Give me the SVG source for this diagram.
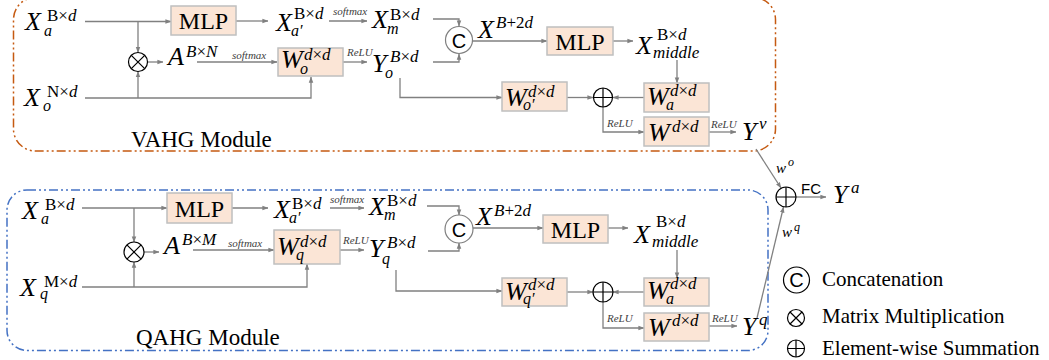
<svg xmlns="http://www.w3.org/2000/svg" width="1049" height="360" viewBox="0 0 1049 360">
<style>
.m{font-family:"Liberation Serif",serif;font-style:italic;font-size:26px;fill:#000}
.sp{font-size:17px}
.sb{font-size:16px}
.up{font-style:normal}
.lb{font-family:"Liberation Serif",serif;font-style:italic;font-size:11px;fill:#404040}
.bx{fill:#fbe5d6;stroke:#bfbfbf;stroke-width:1.5}
.bt{font-family:"Liberation Serif",serif;font-size:24px;text-anchor:middle;fill:#000}
.op{fill:#fff;stroke:#000;stroke-width:1.2}
.ol{stroke:#000;stroke-width:1.2;fill:none}
.cn{stroke:#808080;stroke-width:1.3;fill:none;marker-end:url(#ah)}
.mod{font-family:"Liberation Serif",serif;font-size:23px;fill:#000}
.leg{font-family:"Liberation Serif",serif;font-size:21px;fill:#000}
.cc{font-family:"Liberation Sans",sans-serif;font-size:20px;text-anchor:middle;fill:#000}
.fc{font-family:"Liberation Sans",sans-serif;font-size:15px;fill:#000}
.cop{fill:#fff;stroke:#7f7f7f;stroke-width:1.2}
</style>
<defs>
<marker id="ah" viewBox="0 0 8 8" refX="7.5" refY="4" markerWidth="6" markerHeight="6" markerUnits="userSpaceOnUse" orient="auto"><path d="M0,1 L8,4 L0,7 z" fill="#808080"/></marker>
</defs>
<rect width="1049" height="360" fill="#fff"/>

<g id="vahg-frame">
<rect x="13.5" y="-2.5" width="762" height="153.5" rx="22" fill="none" stroke="#c55a11" stroke-width="1.5" stroke-dasharray="9 3 2 3 2 3"/>
<text class="mod" x="131" y="147">VAHG Module</text>
</g>
<g id="qahg-frame">
<rect x="7" y="190" width="761" height="160.5" rx="20" fill="none" stroke="#4472c4" stroke-width="1.5" stroke-dasharray="9 3 2 3 2 3"/>
<text class="mod" x="136" y="345">QAHG Module</text>
</g>

<g id="connectors">
<path class="cn" d="M85,21.5 H171"/>
<path class="cn" d="M138,21.5 V52.5"/>
<path class="cn" d="M85,98 H311 V77"/>
<path class="cn" d="M138,98 V71.5"/>
<path class="cn" d="M147.5,62 H163"/>
<path class="cn" d="M197,62 H277"/>
<path class="cn" d="M236,21 H268"/>
<path class="cn" d="M329,21 H367"/>
<path class="cn" d="M343,62 H367"/>
<path class="cn" d="M433,19 H459 V26"/>
<path class="cn" d="M433,62 H459 V54"/>
<path class="cn" d="M473,41 H547"/>
<path class="cn" d="M613,41 H633"/>
<path class="cn" d="M677,60 V83"/>
<path class="cn" d="M644,97.5 H613"/>
<path class="cn" d="M567,97.5 H593"/>
<path class="cn" d="M400,78 V97.5 H502"/>
<path class="cn" d="M603,107 V132 H644"/>
<path class="cn" d="M709,132 H736"/>
<path class="cn" d="M756,149 L781,188"/>
<path class="cn" d="M82,208 H167"/>
<path class="cn" d="M134,208 V242"/>
<path class="cn" d="M82,287 H307 V264"/>
<path class="cn" d="M134,287 V262"/>
<path class="cn" d="M144,252 H159"/>
<path class="cn" d="M193,250 H274"/>
<path class="cn" d="M232,208 H268"/>
<path class="cn" d="M330,208 H364"/>
<path class="cn" d="M340,250 H364"/>
<path class="cn" d="M427,206 H459 V215"/>
<path class="cn" d="M428,251 H459 V243"/>
<path class="cn" d="M473,228 H543"/>
<path class="cn" d="M608,228 H628"/>
<path class="cn" d="M677,250 V278"/>
<path class="cn" d="M644,292 H613"/>
<path class="cn" d="M567,292 H593"/>
<path class="cn" d="M396,270 V291 H502"/>
<path class="cn" d="M603,302 V328 H644"/>
<path class="cn" d="M709,326 H737"/>
<path class="cn" d="M757,318 L783.5,207"/>
<path class="cn" d="M796,197 H826"/>
</g>

<g id="connector-labels">
<text class="lb" x="232" y="59">softmax</text>
<text class="lb" x="333" y="15">softmax</text>
<text class="lb" x="347" y="56">ReLU</text>
<text class="lb" x="607" y="127">ReLU</text>
<text class="lb" x="711" y="128">ReLU</text>
<text class="lb" x="228" y="247">softmax</text>
<text class="lb" x="330" y="203">softmax</text>
<text class="lb" x="343" y="244">ReLU</text>
<text class="lb" x="607" y="322">ReLU</text>
<text class="lb" x="712" y="322">ReLU</text>
<text class="m"><tspan x="776" y="173" style="font-size:15px">w</tspan><tspan x="788" y="166" style="font-size:12px">o</tspan></text>
<text class="m"><tspan x="782" y="237" style="font-size:15px">w</tspan><tspan x="794" y="231" style="font-size:12px">q</tspan></text>
<text class="fc" x="801" y="194">FC</text>
</g>

<g id="v-xa"><text class="m"><tspan x="25" y="30">X</tspan><tspan class="sp" x="47" y="21"><tspan class="up">B×</tspan>d</tspan><tspan class="sb" x="44" y="36">a</tspan></text></g>
<g id="v-xo"><text class="m"><tspan x="24" y="106">X</tspan><tspan class="sp" x="47" y="97"><tspan class="up">N×</tspan>d</tspan><tspan class="sb" x="43" y="111">o</tspan></text></g>
<g id="v-mm"><circle class="op" cx="138" cy="62" r="9.5"/><path class="ol" d="M131.3,55.3 L144.7,68.7 M144.7,55.3 L131.3,68.7"/></g>
<g id="v-a"><text class="m"><tspan x="168" y="65">A</tspan><tspan class="sp" x="186" y="57">B<tspan class="up">×</tspan>N</tspan></text></g>
<g id="v-mlp1"><rect class="bx" x="171" y="6" width="65" height="29"/><text class="bt" x="203.5" y="29">MLP</text></g>
<g id="v-wo"><rect class="bx" x="278" y="48" width="65" height="28"/><text class="m"><tspan x="281" y="68">W</tspan><tspan class="sp" x="304" y="60">d<tspan class="up">×</tspan>d</tspan><tspan class="sb" x="300" y="74">o</tspan></text></g>
<g id="v-xa2"><text class="m"><tspan x="276" y="31">X</tspan><tspan class="sp" x="294" y="19"><tspan class="up">B×</tspan>d</tspan><tspan class="sb" x="291" y="36">a′</tspan></text></g>
<g id="v-xm"><text class="m"><tspan x="372" y="28">X</tspan><tspan class="sp" x="390" y="20"><tspan class="up">B×</tspan>d</tspan><tspan class="sb" x="387" y="34">m</tspan></text></g>
<g id="v-yo"><text class="m"><tspan x="372" y="72">Y</tspan><tspan class="sp" x="390" y="62">B<tspan class="up">×</tspan>d</tspan><tspan class="sb" x="385" y="78">o</tspan></text></g>
<g id="v-cat"><circle class="cop" cx="459" cy="40" r="13.5"/><text class="cc" x="459" y="47.5">C</text></g>
<g id="v-x2d"><text class="m"><tspan x="478" y="38">X</tspan><tspan class="sp" x="496" y="28">B<tspan class="up">+2</tspan>d</tspan></text></g>
<g id="v-mlp2"><rect class="bx" x="547" y="27" width="66" height="28"/><text class="bt" x="580" y="50">MLP</text></g>
<g id="v-xmid"><text class="m"><tspan x="636" y="54">X</tspan><tspan class="sp" x="657" y="40"><tspan class="up">B×</tspan>d</tspan><tspan class="sb" x="653" y="58" style="font-size:17px">middle</tspan></text></g>
<g id="v-wa"><rect class="bx" x="644" y="83" width="65" height="29"/><text class="m"><tspan x="647" y="105">W</tspan><tspan class="sp" x="670" y="96">d<tspan class="up">×</tspan>d</tspan><tspan class="sb" x="666" y="110">a</tspan></text></g>
<g id="v-sum"><circle class="op" cx="603" cy="97.5" r="9.5"/><path class="ol" d="M593.5,97.5 H612.5 M603,88 V107"/></g>
<g id="v-wo2"><rect class="bx" x="502" y="82" width="65" height="29"/><text class="m"><tspan x="505" y="106">W</tspan><tspan class="sp" x="528" y="97">d<tspan class="up">×</tspan>d</tspan><tspan class="sb" x="523" y="110">o′</tspan></text></g>
<g id="v-w"><rect class="bx" x="644" y="117" width="65" height="29"/><text class="m"><tspan x="648" y="141">W</tspan><tspan class="sp" x="672" y="132">d<tspan class="up">×</tspan>d</tspan></text></g>
<g id="v-yv"><text class="m"><tspan x="742" y="140">Y</tspan><tspan class="sp" x="759" y="129">v</tspan></text></g>

<g id="q-xa"><text class="m"><tspan x="22" y="219">X</tspan><tspan class="sp" x="45" y="210"><tspan class="up">B×</tspan>d</tspan><tspan class="sb" x="41" y="224">a</tspan></text></g>
<g id="q-xq"><text class="m"><tspan x="20" y="296">X</tspan><tspan class="sp" x="44" y="287"><tspan class="up">M×</tspan>d</tspan><tspan class="sb" x="40" y="299">q</tspan></text></g>
<g id="q-mm"><circle class="op" cx="134" cy="252" r="10"/><path class="ol" d="M126.9,244.9 L141.1,259.1 M141.1,244.9 L126.9,259.1"/></g>
<g id="q-a"><text class="m"><tspan x="164" y="254">A</tspan><tspan class="sp" x="182" y="245">B<tspan class="up">×</tspan>M</tspan></text></g>
<g id="q-mlp1"><rect class="bx" x="167" y="193" width="65" height="30"/><text class="bt" x="199.5" y="217">MLP</text></g>
<g id="q-wq"><rect class="bx" x="274" y="230" width="66" height="34"/><text class="m"><tspan x="277" y="255">W</tspan><tspan class="sp" x="300" y="247">d<tspan class="up">×</tspan>d</tspan><tspan class="sb" x="296" y="260">q</tspan></text></g>
<g id="q-xa2"><text class="m"><tspan x="274" y="218">X</tspan><tspan class="sp" x="292" y="209"><tspan class="up">B×</tspan>d</tspan><tspan class="sb" x="289" y="223">a′</tspan></text></g>
<g id="q-xm"><text class="m"><tspan x="369" y="215">X</tspan><tspan class="sp" x="387" y="206"><tspan class="up">B×</tspan>d</tspan><tspan class="sb" x="384" y="220">m</tspan></text></g>
<g id="q-yq"><text class="m"><tspan x="369" y="257">Y</tspan><tspan class="sp" x="387" y="248">B<tspan class="up">×</tspan>d</tspan><tspan class="sb" x="382" y="264">q</tspan></text></g>
<g id="q-cat"><circle class="cop" cx="459" cy="229" r="14"/><text class="cc" x="459" y="236.5">C</text></g>
<g id="q-x2d"><text class="m"><tspan x="476" y="225">X</tspan><tspan class="sp" x="494" y="216">B<tspan class="up">+2</tspan>d</tspan></text></g>
<g id="q-mlp2"><rect class="bx" x="543" y="215" width="65" height="28"/><text class="bt" x="575.5" y="238">MLP</text></g>
<g id="q-xmid"><text class="m"><tspan x="634" y="243">X</tspan><tspan class="sp" x="656" y="227"><tspan class="up">B×</tspan>d</tspan><tspan class="sb" x="652" y="247" style="font-size:17px">middle</tspan></text></g>
<g id="q-wa"><rect class="bx" x="644" y="278" width="65" height="28"/><text class="m"><tspan x="647" y="299">W</tspan><tspan class="sp" x="670" y="289">d<tspan class="up">×</tspan>d</tspan><tspan class="sb" x="666" y="304">a</tspan></text></g>
<g id="q-sum"><circle class="op" cx="603" cy="292" r="10"/><path class="ol" d="M593,292 H613 M603,282 V302"/></g>
<g id="q-wq2"><rect class="bx" x="502" y="278" width="65" height="28"/><text class="m"><tspan x="505" y="300">W</tspan><tspan class="sp" x="528" y="290">d<tspan class="up">×</tspan>d</tspan><tspan class="sb" x="523" y="304">q′</tspan></text></g>
<g id="q-w"><rect class="bx" x="644" y="313" width="65" height="28"/><text class="m"><tspan x="648" y="336">W</tspan><tspan class="sp" x="672" y="326">d<tspan class="up">×</tspan>d</tspan></text></g>
<g id="q-yq2"><text class="m"><tspan x="742" y="335">Y</tspan><tspan class="sp" x="759" y="325">q</tspan></text></g>

<g id="fuse-sum"><circle class="op" cx="786" cy="197" r="10"/><path class="ol" d="M776,197 H796 M786,187 V207"/></g>
<g id="ya"><text class="m"><tspan x="833" y="203">Y</tspan><tspan class="sp" x="851" y="193">a</tspan></text></g>

<g id="legend">
<circle class="op" cx="796.5" cy="280" r="13"/><text class="cc" x="796.5" y="287">C</text>
<text class="leg" x="822" y="286">Concatenation</text>
<circle class="op" cx="796" cy="318" r="8.5"/><path class="ol" d="M790,312 L802,324 M802,312 L790,324"/>
<text class="leg" x="822" y="323">Matrix Multiplication</text>
<circle class="op" cx="796" cy="348.5" r="8.5"/><path class="ol" d="M787.5,348.5 H804.5 M796,340 V357"/>
<text class="leg" x="822" y="355">Element-wise Summation</text>
</g>
</svg>
